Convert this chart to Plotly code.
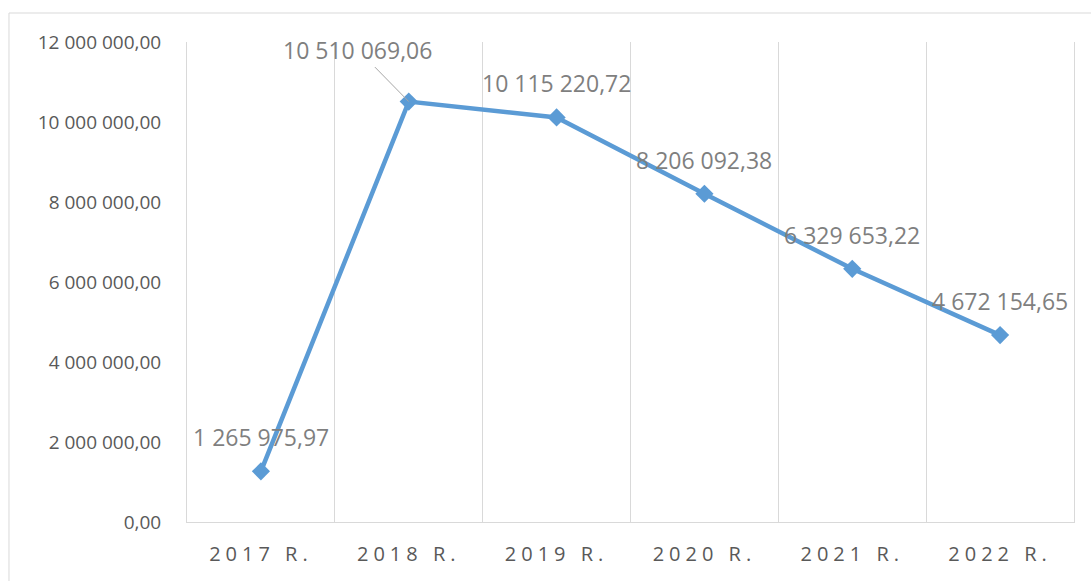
import plotly.graph_objects as go

categories = ["2017 R.", "2018 R.", "2019 R.", "2020 R.", "2021 R.", "2022 R."]
values = [1265975.97, 10510069.06, 10115220.72, 8206092.38, 6329653.22, 4672154.65]
value_labels = ["1 265 975,97", "10 510 069,06", "10 115 220,72",
                "8 206 092,38", "6 329 653,22", "4 672 154,65"]
y_tick_values = [0, 2000000, 4000000, 6000000, 8000000, 10000000, 12000000]
y_tick_labels = ["0,00", "2 000 000,00", "4 000 000,00", "6 000 000,00",
                 "8 000 000,00", "10 000 000,00", "12 000 000,00"]

LINE = "#5b9bd5"
GRID = "#d9d9d9"
FONT = "Open Sans"

fig = go.Figure()
fig.add_trace(go.Scatter(
    x=categories, y=values, mode="lines+markers",
    line=dict(color=LINE, width=4.5),
    marker=dict(symbol="diamond", size=14, color=LINE),
    hoverinfo="skip", showlegend=False,
))

for i, (c, v, t) in enumerate(zip(categories, values, value_labels)):
    if i == 1:
        fig.add_annotation(x=c, y=v, text=t, showarrow=True, arrowhead=0,
                           arrowcolor="#a6a6a6", arrowwidth=1, ax=-51, ay=-52,
                           standoff=0, font=dict(family=FONT, size=23, color="#7f7f7f"))
    else:
        fig.add_annotation(x=c, y=v, text=t, showarrow=False, yshift=34,
                           font=dict(family=FONT, size=23, color="#7f7f7f"))

# outer chart-area border (cropped on right and bottom)
fig.add_shape(type="line", xref="paper", yref="paper", x0=-0.2007, x1=1.05,
              y0=1.0604, y1=1.0604, line=dict(color=GRID, width=1))
fig.add_shape(type="line", xref="paper", yref="paper", x0=-0.2007, x1=-0.2007,
              y0=1.0604, y1=-0.2, line=dict(color=GRID, width=1))

fig.update_layout(
    width=1091, height=581,
    margin=dict(l=187, r=17, t=42, b=59),
    paper_bgcolor="white", plot_bgcolor="white",
    font=dict(family=FONT, color="#595959"),
    xaxis=dict(type="category", categoryorder="array", categoryarray=categories,
               range=[-0.5, 5.5], tickson="boundaries", showgrid=True,
               gridcolor=GRID, gridwidth=1, showline=True, linecolor=GRID,
               linewidth=1, ticks="", ticklabelstandoff=14,
               tickfont=dict(family=FONT, size=20, color="#595959"),
               zeroline=False, fixedrange=True),
    yaxis=dict(range=[0, 12000000], tickvals=y_tick_values, ticktext=y_tick_labels,
               showgrid=False, zeroline=False, showline=True, mirror=True,
               linecolor=GRID, linewidth=1, ticks="", ticklabelstandoff=21,
               tickfont=dict(family=FONT, size=19, color="#595959"),
               fixedrange=True),
)

post = """
document.body.style.margin = '0';
var gd = document.getElementById('{plot_id}');
function spaceTicks() {
  gd.querySelectorAll('.xtick text').forEach(function(t) {
    t.style.letterSpacing = '5px';
  });
}
spaceTicks();
if (gd.on) { gd.on('plotly_afterplot', spaceTicks); }
"""

fig.write_html("out.html", post_script=post, config={"displayModeBar": False})
